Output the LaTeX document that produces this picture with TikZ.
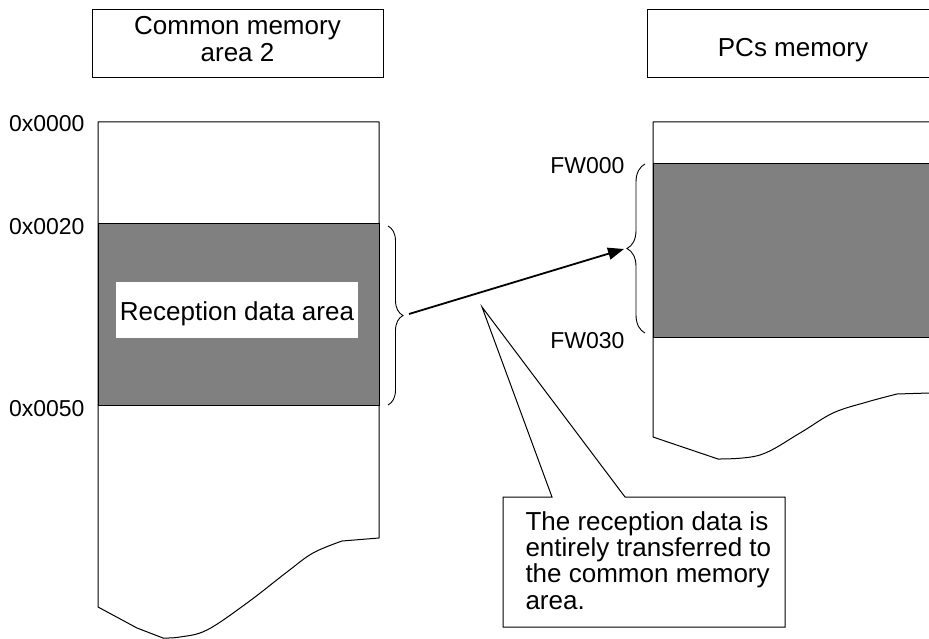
\documentclass[tikz,border=0pt]{standalone}
\usepackage{fontspec}
\setmainfont{Liberation Sans}
\usetikzlibrary{arrows.meta,decorations.pathreplacing}
\definecolor{bandgray}{HTML}{808080}
\begin{document}
\begin{tikzpicture}[x=1pt,y=-1pt,line width=1pt,
  txt/.style={font=\fontsize{26}{27.3}\selectfont,inner sep=0pt},
  addr/.style={font=\fontsize{23}{25}\selectfont,inner sep=0pt,anchor=base east},
  titlebox/.style={draw,fill=white,line width=1pt},
  memline/.style={draw,fill=white,line width=1pt,line join=round},
  band/.style={draw,fill=bandgray,line width=1pt},
  bracestyle/.style={draw,line width=0.9pt,decorate},
  xferarrow/.style={draw,line width=1.8pt,-{Triangle[length=16pt,width=12pt]}},
  calloutline/.style={draw,fill=white,line width=1pt,line join=miter}]
\useasboundingbox (0,0) rectangle (929,639);
\clip (0,0) rectangle (929,639);

% title boxes
\draw[titlebox] (92,10) rectangle (383,78);
\node[txt,anchor=north,align=center] (ltitle) at (237.5,15.7) {Common memory\\area 2};
\draw[titlebox] (647,10) rectangle (939,78);
\node[txt,anchor=base] (rtitle) at (793,56.7) {PCs memory};

% left memory
\draw[memline] (98,607) -- (98,122) -- (379,122) -- (379,538) -- (342,541)
  -- plot[smooth,tension=0.6] coordinates {(342,541) (313,553) (287,572) (247,603) (207,630) (180,637) (163,638)}
  -- (137,628) -- cycle;
\draw[band] (98,224) rectangle (379,405);
\node[fill=white,inner sep=0pt,minimum width=242pt,minimum height=56pt] (recvbg) at (237,310) {};
\node[txt,anchor=base] (recv) at (237,320) {Reception data area};

\node[addr] (a0) at (85,131.5) {0x0000};
\node[addr] (a20) at (85,235) {0x0020};
\node[addr] (a50) at (85,416.5) {0x0050};

% right memory
\draw[memline] (945,393) -- (929,393) -- (897,394)
  -- plot[smooth,tension=0.6] coordinates {(897,394) (867,402) (833,413) (800,433) (760,455) (718,459)}
  -- (653,437) -- (653,122) -- (945,122);
\draw[band] (653,164) rectangle (945,337);

\node[addr] (fw0) at (625,173.3) {FW000};
\node[addr] (fw30) at (625,348.3) {FW030};

% braces
\coordinate (lbtop) at (388,226);
\coordinate (lbbot) at (388,405);
\coordinate (rbtop) at (645,164);
\coordinate (rbbot) at (645,333);
\draw[bracestyle,decoration={brace,amplitude=15pt}] (lbtop) -- (lbbot);
\draw[bracestyle,decoration={brace,amplitude=18pt}] (rbbot) -- (rbtop);

% transfer arrow
\coordinate (arrstart) at (409,314);
\coordinate (arrend) at (624,249);
\draw[xferarrow] (arrstart) -- (arrend);

% callout
\coordinate (cl1) at (503,497);
\coordinate (cl2) at (552,497);
\coordinate (ctip) at (482,307);
\coordinate (cl3) at (625,497);
\coordinate (cl4) at (785,497);
\coordinate (cl5) at (785,627);
\coordinate (cl6) at (503,627);
\draw[calloutline] (cl1) -- (cl2) -- (ctip) -- (cl3) -- (cl4) -- (cl5) -- (cl6) -- cycle;
\node[font=\fontsize{26}{26.3}\selectfont,inner sep=0pt,anchor=north west,align=left] (ctext) at (525,511)
  {The reception data is\\entirely transferred to\\the common memory\\area.};
\end{tikzpicture}
\end{document}
